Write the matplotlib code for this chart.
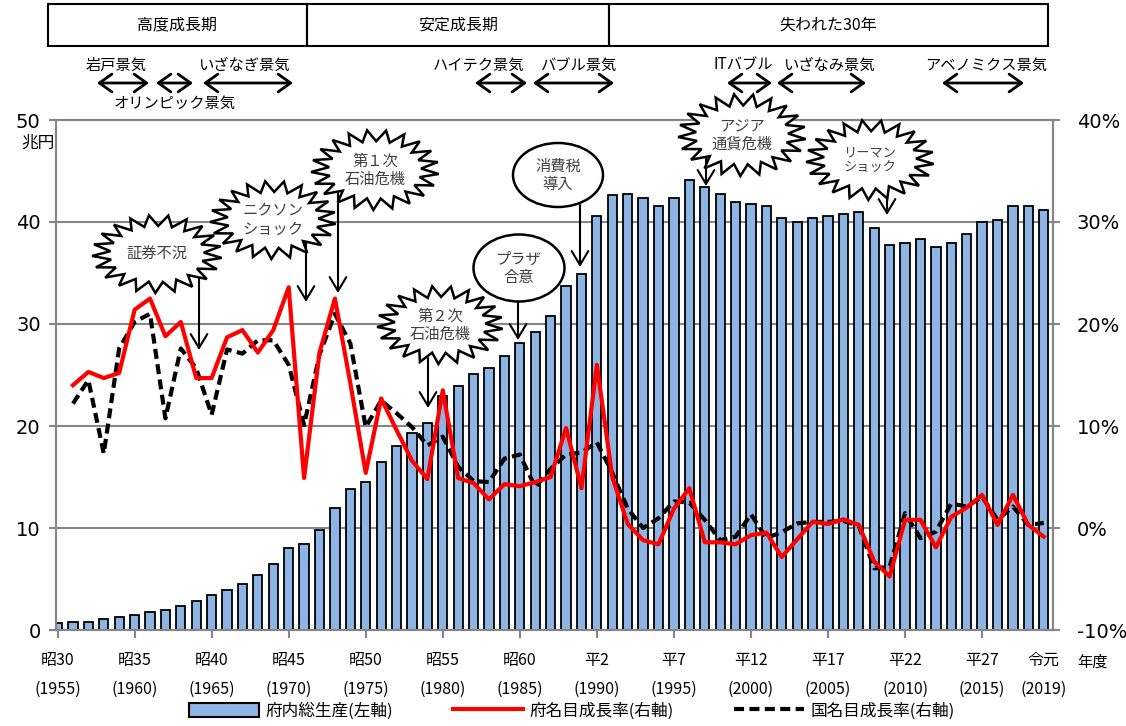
import numpy as np
import matplotlib
matplotlib.use('Agg')
import matplotlib.pyplot as plt
from matplotlib.patches import Polygon, Ellipse, Rectangle, Patch
from matplotlib.lines import Line2D

plt.rcParams['font.family'] = ['Noto Sans CJK JP', 'DejaVu Sans']

# ---- data ----
years = np.arange(1955, 2020)
gdp = [0.65, 0.8, 0.82, 1.05, 1.25, 1.45, 1.8, 2.0, 2.4, 2.8,
       3.4, 3.95, 4.55, 5.35, 6.5, 8.05, 8.45, 9.85, 12.0, 13.8,
       14.5, 16.5, 18.05, 19.3, 20.3, 22.95, 23.95, 25.1, 25.7, 26.9,
       28.1, 29.25, 30.8, 33.75, 34.9, 40.6, 42.6, 42.75, 42.4, 41.6,
       42.4, 44.1, 43.4, 42.75, 42.0, 41.8, 41.6, 40.4, 40.0, 40.4,
       40.6, 40.8, 41.0, 39.4, 37.7, 37.9, 38.3, 37.5, 37.9, 38.85,
       40.0, 40.2, 41.6, 41.6, 41.2]

growth_years = np.arange(1956, 2020)
pref_growth = [14.0, 15.3, 14.7, 15.2, 21.4, 22.5, 18.8, 20.2, 14.7,
               14.7, 18.7, 19.4, 17.2, 19.4, 23.6, 4.9, 17.2, 22.5, 14.2,
               5.4, 12.7, 9.6, 6.6, 4.8, 13.5, 4.9, 4.4, 2.8, 4.3,
               4.1, 4.5, 5.0, 9.8, 3.9, 16.0, 5.0, 0.4, -1.2, -1.6,
               1.9, 3.9, -1.4, -1.4, -1.6, -0.7, -0.45, -2.85, -1.1, 0.6,
               0.4, 0.85, 0.3, -3.3, -4.75, 0.8, 0.8, -1.9, 1.1, 2.0,
               3.25, 0.3, 3.25, 0.3, -0.85]
nat_growth = [12.2, 14.5, 7.3, 17.6, 20.2, 21.0, 10.75, 17.6, 15.65,
              11.1, 17.5, 17.1, 18.4, 18.4, 16.0, 10.1, 17.0, 21.0, 18.1,
              9.9, 12.5, 11.25, 9.9, 8.1, 8.95, 6.0, 4.6, 4.5, 6.8,
              7.2, 4.0, 5.8, 7.2, 7.4, 8.4, 5.4, 1.9, 0.0, 0.95,
              2.6, 2.5, 0.8, -1.2, -0.85, 1.35, -1.0, -0.4, 0.45, 0.6,
              0.6, 0.7, 0.2, -3.95, -3.8, 1.45, -1.0, -0.35, 2.4, 2.1,
              3.05, 0.8, 2.1, 0.3, 0.5]

tick_years = [1955, 1960, 1965, 1970, 1975, 1980, 1985, 1990, 1995,
              2000, 2005, 2010, 2015, 2019]
tick_labels = ['昭30\n(1955)', '昭35\n(1960)', '昭40\n(1965)', '昭45\n(1970)',
               '昭50\n(1975)', '昭55\n(1980)', '昭60\n(1985)', '平2\n(1990)',
               '平7\n(1995)', '平12\n(2000)', '平17\n(2005)', '平22\n(2010)',
               '平27\n(2015)', '令元\n(2019)']

periods = ['高度成長期', '安定成長期', '失われた30年']
booms = ['岩戸景気', 'オリンピック景気', 'いざなぎ景気', 'ハイテク景気',
         'バブル景気', 'ITバブル', 'いざなみ景気', 'アベノミクス景気']
events = ['証券不況', 'ニクソン\nショック', '第１次\n石油危機', '第２次\n石油危機',
          'プラザ\n合意', '消費税\n導入', 'アジア\n通貨危機', 'リーマン\nショック']

# ---- layout (pixels) ----
W, H = 1126, 726
GRAY = '#868686'
BLUE = '#8DB4E2'

fig = plt.figure(figsize=(W / 100, H / 100), dpi=100)
ax = fig.add_axes([56 / W, 1 - 630 / H, (1053 - 56) / W, (630 - 120) / H])

ax.bar(years, gdp, width=0.6, color=BLUE, edgecolor='black', linewidth=1.3, zorder=3)
ax.set_xlim(1954.9, 2019.6)
ax.set_ylim(0, 50)
ax.set_yticks(range(0, 51, 10))
ax.yaxis.grid(True, color=GRAY, linewidth=1.5)
ax.set_axisbelow(True)
for s in ax.spines.values():
    s.set_color(GRAY)
    s.set_linewidth(1.5)
ax.tick_params(axis='y', colors=GRAY, length=5, width=1.5, labelcolor='black',
               labelsize=14, pad=6)
for lbl in ax.get_yticklabels():
    lbl.set_fontfamily('DejaVu Sans')
ax.set_xticks(tick_years)
ax.set_xticklabels(tick_labels, fontsize=11.5, linespacing=1.9)
ax.tick_params(axis='x', colors=GRAY, length=6, width=1.5, labelcolor='black', pad=10)
ax.xaxis.get_major_ticks()[-1].tick1line.set_visible(False)

ax2 = ax.twinx()
ax2.plot(growth_years, nat_growth, color='black', lw=3, ls=(0, (2.4, 1.3)), zorder=4)
ax2.plot(growth_years, pref_growth, color='red', lw=3, zorder=5)
ax2.set_ylim(-10, 40)
ax2.set_yticks(range(-10, 41, 10))
ax2.set_yticklabels([f'{v}%' for v in range(-10, 41, 10)], fontfamily='DejaVu Sans')
ax2.tick_params(axis='y', colors=GRAY, length=5, width=1.5, labelcolor='black',
                labelsize=14, pad=12)
for s in ax2.spines.values():
    s.set_color(GRAY)
    s.set_linewidth(1.5)

# ---- overlay for shapes / annotations ----
ov = fig.add_axes([0, 0, 1, 1], zorder=10)
ov.set_xlim(0, W)
ov.set_ylim(H, 0)
ov.axis('off')
ov.patch.set_alpha(0)

ov.text(38, 143, '兆円', fontsize=12, ha='center', va='center')
ov.text(1093, 662, '年度', fontsize=11, ha='center', va='center')

# header boxes
period_edges = [48, 307, 609, 1048]
for i, name in enumerate(periods):
    x0, x1 = period_edges[i], period_edges[i + 1]
    ov.add_patch(Rectangle((x0, 4), x1 - x0, 42, fill=False, edgecolor='black', lw=1.5))
    ov.text((x0 + x1) / 2, 25, name, fontsize=11.5, ha='center', va='center')

# boom arrows
boom_text = [(116, 65), (175, 103), (244, 65), (479, 65), (578, 65),
             (743, 65), (829, 65), (986, 65)]
boom_arrow = [(97, 149), (156, 193), (203, 293), (475, 527), (533, 614),
              (727, 772), (777, 866), (942, 1024)]
for name, (tx, ty), (a0, a1) in zip(booms, boom_text, boom_arrow):
    ov.text(tx, ty, name, fontsize=11, ha='center', va='center')
    ov.annotate('', xy=(a1, 83), xytext=(a0, 83),
                arrowprops=dict(arrowstyle='<->,head_length=0.45,head_width=0.32',
                                lw=2, color='black', shrinkA=0, shrinkB=0,
                                mutation_scale=20))


def burst(cx, cy, w, h, n=21):
    ang = np.linspace(0, 2 * np.pi, 2 * n, endpoint=False) + 0.1
    r = np.where(np.arange(2 * n) % 2 == 0, 1.0, 0.72)
    pts = np.column_stack([cx + w / 2 * r * np.cos(ang), cy + h / 2 * r * np.sin(ang)])
    ov.add_patch(Polygon(pts, closed=True, facecolor='white', edgecolor='black',
                         lw=1.8, zorder=3))


# event shapes: (kind, cx, cy, w, h, fontsize)
shapes = [('b', 157, 254, 130, 78, 11), ('b', 273, 220, 126, 78, 11),
          ('b', 375, 170, 128, 80, 11), ('b', 440, 325, 126, 78, 11),
          ('e', 519, 268, 91, 67, 11), ('e', 558, 175, 90, 64, 11),
          ('b', 742, 135, 128, 82, 11), ('b', 870, 160, 128, 80, 9.5)]
arrows = [(199, 278, 350), (306, 243, 302), (338, 193, 293), (428, 358, 408),
          (518, 301, 340), (580, 205, 267), (706, 155, 186), (887, 188, 215)]

for (x, y0, y1) in arrows:
    ov.annotate('', xy=(x, y1), xytext=(x, y0), zorder=2,
                arrowprops=dict(arrowstyle='->,head_length=0.5,head_width=0.3',
                                lw=1.5, color='black', shrinkA=0, shrinkB=0,
                                mutation_scale=20))

for name, (kind, cx, cy, w, h, fs) in zip(events, shapes):
    if kind == 'b':
        burst(cx, cy, w, h)
    else:
        ov.add_patch(Ellipse((cx, cy), w, h, facecolor='white', edgecolor='black',
                             lw=1.8, zorder=3))
    ov.text(cx, cy, name, fontsize=fs, ha='center', va='center', color='#404040',
            linespacing=1.1, zorder=4)

# legend
handles = [Patch(facecolor=BLUE, edgecolor='black', linewidth=1.5),
           Line2D([], [], color='red', lw=3),
           Line2D([], [], color='black', lw=3, ls=(0, (2.4, 1.3)))]
labels = ['府内総生産(左軸)', '府名目成長率(右軸)', '国名目成長率(右軸)']
fig.legend(handles, labels, loc='center', bbox_to_anchor=(572 / W, 1 - 711 / H),
           ncol=3, frameon=False, fontsize=12, handlelength=4.2, handleheight=0.9,
           handletextpad=0.4, columnspacing=3.6)

fig.savefig('out.png', dpi=100)
